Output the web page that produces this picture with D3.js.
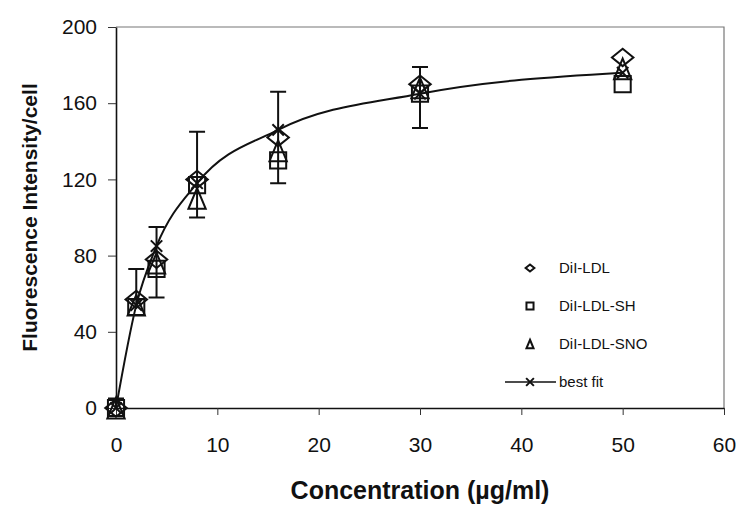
<!DOCTYPE html>
<html>
<head>
<meta charset="utf-8">
<script src="https://cdn.jsdelivr.net/npm/d3@7"></script>
<style>
    body { margin: 0; background: #fff; }
    svg { font-family: "Liberation Sans", Arial, sans-serif; }
    .tick text { font-size: 21px; fill: #111; }
    .axis-title { font-weight: bold; fill: #111; }
    .legend text { font-size: 15px; fill: #111; }
</style>
</head>
<body>
<div id="chart"></div>
<script>
// concentrations (ug/ml)
const concentrations = [0, 2, 4, 8, 16, 30, 50];

// fluorescence intensity / cell
const dilLdl = [0, 57, 78, 120, 142, 170, 184];
const dilLdlSh = [0, 53, 73, 117, 130, 165, 170];
const dilLdlSno = [0, 54, 76, 110, 135, 168, 178];
const bestFit = [0, 54, 85, 118, 146, 165, 176];

// error bars (one per concentration)
const errLow = [0, 53, 58, 100, 118, 147, null];
const errHigh = [5, 73, 95, 145, 166, 179, null];

const xTicks = [0, 10, 20, 30, 40, 50, 60];
const yTicks = [0, 40, 80, 120, 160, 200];

const seriesNames = ["DiI-LDL", "DiI-LDL-SH", "DiI-LDL-SNO", "best fit"];

// custom marker shapes
const shapes = {
    diamond: {draw(ctx, size) {
        let w = Math.sqrt(size) * 0.62, h = Math.sqrt(size) * 0.5;
        ctx.moveTo(0, -h); ctx.lineTo(w, 0); ctx.lineTo(0, h); ctx.lineTo(-w, 0); ctx.closePath();
    }},
    square: {draw(ctx, size) {
        let r = Math.sqrt(size) / 2;
        ctx.rect(-r, -r, 2 * r, 2 * r);
    }},
    triangle: {draw(ctx, size) {
        let w = Math.sqrt(size) * 0.5, h = Math.sqrt(size) * 0.6;
        ctx.moveTo(0, -h); ctx.lineTo(w, h); ctx.lineTo(-w, h); ctx.closePath();
    }},
    cross: {draw(ctx, size) {
        let r = Math.sqrt(size) / 2;
        ctx.moveTo(-r, -r); ctx.lineTo(r, r); ctx.moveTo(r, -r); ctx.lineTo(-r, r);
    }}
};

let margin = {top: 27, right: 16, bottom: 98, left: 116};
let width = 740 - margin.left - margin.right;
let height = 506 - margin.top - margin.bottom;

let svg = d3.select("#chart").append("svg")
    .attr("width", 740)
    .attr("height", 506)
    .append("g")
    .attr("transform", `translate(${margin.left},${margin.top})`);

let x = d3.scaleLinear().domain([0, 60]).range([0, width]);
let y = d3.scaleLinear().domain([0, 200]).range([height, 0]);

// frame (top and right)
svg.append("path")
    .attr("d", `M0,0H${width}V${height}`)
    .attr("fill", "none")
    .attr("stroke", "#777")
    .attr("stroke-width", 1.2);

// axes
svg.append("g")
    .attr("class", "x-axis axis")
    .attr("transform", `translate(0,${height})`)
    .call(d3.axisBottom(x).tickValues(xTicks).tickSize(7).tickPadding(22).tickSizeOuter(0));

svg.append("g")
    .attr("class", "y-axis axis")
    .call(d3.axisLeft(y).tickValues(yTicks).tickSize(8).tickPadding(11).tickSizeOuter(0));

svg.selectAll(".axis .domain").attr("stroke", "#111").attr("stroke-width", 1.6);
svg.selectAll(".axis .tick line").attr("stroke", "#333").attr("stroke-width", 1);

// axis titles
svg.append("text")
    .attr("class", "axis-title")
    .attr("x", width / 2)
    .attr("y", 472)
    .attr("text-anchor", "middle")
    .style("font-size", "25px")
    .text("Concentration (µg/ml)");

svg.append("text")
    .attr("class", "axis-title")
    .attr("transform", `translate(${37 - margin.left},${height / 2})rotate(-90)`)
    .attr("text-anchor", "middle")
    .style("font-size", "21px")
    .text("Fluorescence Intensity/cell");

// error bars
let errData = concentrations.map((c, i) => ({c: c, lo: errLow[i], hi: errHigh[i]}))
    .filter(d => d.hi !== null);

let err = svg.append("g").attr("class", "errors")
    .attr("stroke", "#111").attr("stroke-width", 2).attr("fill", "none");

err.selectAll("path")
    .data(errData)
    .enter().append("path")
    .attr("d", d => {
        let cx = x(d.c), cap = 8;
        let p = `M${cx},${y(d.lo)}V${y(d.hi)}M${cx - cap},${y(d.hi)}H${cx + cap}`;
        if (d.lo < d.hi - 25) p += `M${cx - cap},${y(d.lo)}H${cx + cap}`;
        return p;
    });

// best fit line
let fitData = concentrations.map((c, i) => ({c: c, v: bestFit[i]}));

let line = d3.line()
    .curve(d3.curveMonotoneX)
    .x(d => x(d.c))
    .y(d => y(d.v));

svg.append("path")
    .datum(fitData)
    .attr("d", line)
    .attr("fill", "none")
    .attr("stroke", "#111")
    .attr("stroke-width", 2);

// markers
let markerSeries = [
    {values: dilLdl, shape: shapes.diamond, size: 300},
    {values: dilLdlSh, shape: shapes.square, size: 260},
    {values: dilLdlSno, shape: shapes.triangle, size: 300},
    {values: bestFit, shape: shapes.cross, size: 130}
];

markerSeries.forEach(s => {
    svg.append("g")
        .selectAll("path")
        .data(concentrations.map((c, i) => ({c: c, v: s.values[i]})))
        .enter().append("path")
        .attr("transform", d => `translate(${x(d.c)},${y(d.v)})`)
        .attr("d", d3.symbol().type(s.shape).size(s.size))
        .attr("fill", "none")
        .attr("stroke", "#111")
        .attr("stroke-width", 2);
});

// legend
let legendShapes = [shapes.diamond, shapes.square, shapes.triangle, shapes.cross];
let legend = svg.append("g")
    .attr("class", "legend")
    .attr("transform", `translate(${530 - margin.left},${268 - margin.top})`);

let rows = legend.selectAll("g")
    .data(seriesNames)
    .enter().append("g")
    .attr("transform", (d, i) => `translate(0,${i * 38})`);

rows.filter((d, i) => i === 3)
    .append("line")
    .attr("x1", -25).attr("x2", 26)
    .attr("stroke", "#111").attr("stroke-width", 1.5);

rows.append("path")
    .attr("d", (d, i) => d3.symbol().type(legendShapes[i]).size(i === 3 ? 60 : 50)())
    .attr("fill", "none")
    .attr("stroke", "#111")
    .attr("stroke-width", 2);

rows.append("text")
    .attr("x", 29)
    .attr("dy", "0.35em")
    .text(d => d);
</script>
</body>
</html>
